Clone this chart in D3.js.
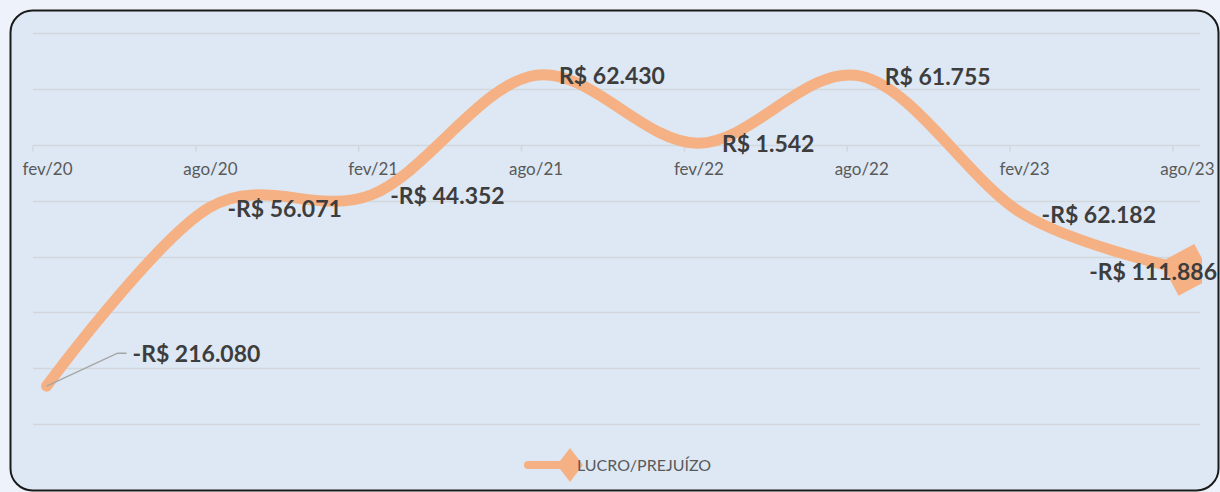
<!DOCTYPE html>
<html>
<head>
<meta charset="utf-8">
<script src="https://cdn.jsdelivr.net/npm/d3@7"></script>
<style>
  html, body { margin: 0; padding: 0; background: #eef3fb; }
  svg { display: block; }
</style>
</head>
<body>
<svg width="1220" height="492"></svg>
<script>
// data
var periods = ["fev/20", "ago/20", "fev/21", "ago/21", "fev/22", "ago/22", "fev/23", "ago/23"];
var lucro = [-216080, -56071, -44352, 62430, 1542, 61755, -62182, -111886];
var valueLabels = ["-R$ 216.080", "-R$ 56.071", "-R$ 44.352", "R$ 62.430", "R$ 1.542", "R$ 61.755", "-R$ 62.182", "-R$ 111.886"];
var yTicks = [-250000, -200000, -150000, -100000, -50000, 0, 50000, 100000];
var seriesName = "LUCRO/PREJUÍZO";

var svg = d3.select("svg"),
    plot = {left: 33, right: 1200, top: 33.4, bottom: 424};

// frame
svg.append("rect")
  .attr("x", 10.5).attr("y", 10.5)
  .attr("width", 1208).attr("height", 480)
  .attr("rx", 22).attr("ry", 22)
  .style("fill", "#dde8f4")
  .style("stroke", "#1a1a1a")
  .style("stroke-width", 2);

// months axis: each period is 6 months, point sits mid-month
var xScale = d3.scaleLinear()
    .domain([0, periods.length * 6 - 5])
    .range([plot.left, plot.right]);
var xPoint = function(i) { return xScale(i * 6 + 0.5); };

var yScale = d3.scaleLinear()
    .domain([-250000, 100000])
    .range([plot.bottom, plot.top]);

// grid
svg.append("g").selectAll("line")
  .data(yTicks)
  .enter().append("line")
    .attr("x1", plot.left).attr("x2", plot.right)
    .attr("y1", function(d) { return Math.round(yScale(d)) + 0.5; })
    .attr("y2", function(d) { return Math.round(yScale(d)) + 0.5; })
    .style("stroke", "#d3d7dc")
    .style("stroke-width", 1.5);

// x axis along zero
var y0 = Math.round(yScale(0)) + 0.5;
var xAxis = svg.append("g");
xAxis.selectAll(".tick")
  .data(periods)
  .enter().append("line")
    .attr("x1", function(d, i) { return xScale(i * 6); })
    .attr("x2", function(d, i) { return xScale(i * 6); })
    .attr("y1", y0).attr("y2", y0 + 6)
    .style("stroke", "#d3d7dc")
    .style("stroke-width", 1.5);
xAxis.selectAll("text")
  .data(periods)
  .enter().append("text")
    .attr("x", function(d, i) { return xPoint(i) + 1; })
    .attr("y", y0 + 29)
    .attr("text-anchor", "middle")
    .style("font", "17px Lato, sans-serif")
    .style("fill", "#595959")
    .text(function(d) { return d; });

svg.append("clipPath").attr("id", "plotclip")
  .append("rect")
    .attr("x", 0).attr("y", 0).attr("width", 1202).attr("height", 492);

var line = d3.line()
    .curve(d3.curveCardinal.tension(0))
    .x(function(d, i) { return xPoint(i); })
    .y(function(d) { return yScale(d); });

var lineColor = "#f5b183";

svg.append("path")
  .datum(lucro)
  .attr("d", line)
  .style("fill", "none")
  .style("stroke", lineColor)
  .style("stroke-width", 11)
  .style("stroke-linecap", "round")
  .style("stroke-linejoin", "round");

// last point marker (big tilted diamond, clipped at the plot edge)
var last = lucro.length - 1;
svg.append("g")
  .attr("clip-path", "url(#plotclip)")
  .append("path")
    .attr("transform", "translate(" + xPoint(last) + "," + yScale(lucro[last]) + ") rotate(17)")
    .attr("d", "M0,-27L27,0L0,27L-27,0Z")
    .style("fill", lineColor);

// leader line for first label
var p0 = [xPoint(0), yScale(lucro[0])];
svg.append("polyline")
  .attr("points", [p0, [p0[0] + 71, p0[1] - 33], [p0[0] + 80, p0[1] - 33]].map(function(p) { return p.join(","); }).join(" "))
  .style("fill", "none")
  .style("stroke", "#a6a6a6")
  .style("stroke-width", 1.5);

// data labels
svg.append("g").selectAll("text")
  .data(valueLabels)
  .enter().append("text")
    .attr("x", function(d, i) {
      if (i === 0) return p0[0] + 86;
      if (i === last) return 1217;
      return xPoint(i) + (lucro[i] < 0 ? 18 : 24);
    })
    .attr("y", function(d, i) {
      if (i === 0) return p0[1] - 32;
      return yScale(lucro[i]) + (i === last ? 2 : 1);
    })
    .attr("dy", "0.35em")
    .attr("text-anchor", function(d, i) { return i === last ? "end" : "start"; })
    .style("font", "bold 23px Lato, sans-serif")
    .style("fill", "#3d3d3d")
    .text(function(d) { return d; });

// legend
var legend = svg.append("g").attr("transform", "translate(570,465)");
legend.append("line")
  .attr("x1", -42).attr("x2", 0)
  .style("stroke", lineColor)
  .style("stroke-width", 8)
  .style("stroke-linecap", "round");
legend.append("path")
  .attr("d", "M0,-17L13,0L0,17L-13,0Z")
  .style("fill", lineColor);
legend.append("text")
  .attr("x", 7).attr("y", 0)
  .attr("dy", "0.35em")
  .style("font", "16px Lato, sans-serif")
  .style("fill", "#595959")
  .text(seriesName);
</script>
</body>
</html>
